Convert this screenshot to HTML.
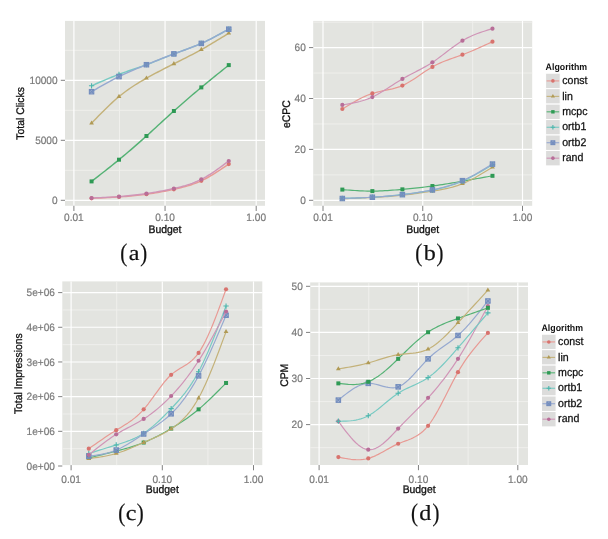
<!DOCTYPE html>
<html><head><meta charset="utf-8"><style>
html,body{margin:0;padding:0;background:#fff;width:608px;height:539px;overflow:hidden}
svg text{font-family:"Liberation Sans",sans-serif;text-rendering:geometricPrecision}
.tk{font-size:10.1px;fill:#7A7A7A;stroke:#7A7A7A;stroke-width:0.2px}
.ti{font-size:10.4px;fill:#111;stroke:#111;stroke-width:0.3px}
.lt{font-size:8.8px;font-weight:bold;fill:#111}
.lg{font-size:10.6px;fill:#111;stroke:#111;stroke-width:0.25px}
svg text.cp,svg text.cl{font-family:"Liberation Serif",serif;fill:#111;stroke:#111;stroke-width:0.2px}
.cp{font-size:25.4px}
.cl{font-size:21.5px}
</style></head><body>
<svg width="608" height="539" viewBox="0 0 608 539" style="display:block;will-change:transform">
<rect width="608" height="539" fill="#FFFFFF"/>
<rect x="65" y="20.9" width="200" height="184.9" fill="#E3E4E0"/>
<path d="M65 170.3H265" stroke="#EFEFEC" stroke-width="1"/>
<path d="M65 110.3H265" stroke="#EFEFEC" stroke-width="1"/>
<path d="M65 50.3H265" stroke="#EFEFEC" stroke-width="1"/>
<path d="M119.47 20.9V205.8" stroke="#EFEFEC" stroke-width="1"/>
<path d="M210.62 20.9V205.8" stroke="#EFEFEC" stroke-width="1"/>
<path d="M65 200.3H265" stroke="#FFFFFF" stroke-width="1.15"/>
<path d="M65 140.3H265" stroke="#FFFFFF" stroke-width="1.15"/>
<path d="M65 80.3H265" stroke="#FFFFFF" stroke-width="1.15"/>
<path d="M73.9 20.9V205.8" stroke="#FFFFFF" stroke-width="1.15"/>
<path d="M165.05 20.9V205.8" stroke="#FFFFFF" stroke-width="1.15"/>
<path d="M256.2 20.9V205.8" stroke="#FFFFFF" stroke-width="1.15"/>
<svg x="65" y="20.9" width="200" height="184.9" viewBox="65 20.9 200 184.9" overflow="hidden">
<path d="M91.57 181.4 L93.85 179.63 L96.14 177.85 L98.43 176.08 L100.71 174.29 L103 172.5 L105.29 170.71 L107.57 168.9 L109.86 167.09 L112.15 165.26 L114.43 163.42 L116.72 161.57 L119.01 159.7 L121.29 157.81 L123.58 155.9 L125.87 153.98 L128.15 152.04 L130.44 150.09 L132.73 148.12 L135.01 146.14 L137.3 144.14 L139.58 142.12 L141.87 140.09 L144.16 138.05 L146.44 136 L148.73 133.93 L151.02 131.85 L153.3 129.76 L155.59 127.67 L157.88 125.57 L160.16 123.48 L162.45 121.38 L164.74 119.29 L167.02 117.2 L169.31 115.12 L171.6 113.05 L173.88 111 L176.17 108.96 L178.46 106.93 L180.74 104.92 L183.03 102.93 L185.32 100.94 L187.6 98.97 L189.89 97.01 L192.18 95.07 L194.46 93.13 L196.75 91.21 L199.04 89.3 L201.32 87.4 L203.61 85.5 L205.9 83.62 L208.18 81.74 L210.47 79.88 L212.76 78.02 L215.04 76.16 L217.33 74.31 L219.61 72.46 L221.9 70.62 L224.19 68.78 L226.47 66.94 L228.76 65.1" fill="none" stroke="#55B275" stroke-width="1.45" stroke-linejoin="round"/>
<rect x="89.57" y="179.41" width="3.99" height="3.99" fill="#2F9A55"/>
<rect x="117.01" y="157.7" width="3.99" height="3.99" fill="#2F9A55"/>
<rect x="144.45" y="134" width="3.99" height="3.99" fill="#2F9A55"/>
<rect x="171.89" y="109" width="3.99" height="3.99" fill="#2F9A55"/>
<rect x="199.33" y="85.4" width="3.99" height="3.99" fill="#2F9A55"/>
<rect x="226.77" y="63.1" width="3.99" height="3.99" fill="#2F9A55"/>
<path d="M91.57 123.2 L93.85 120.83 L96.14 118.46 L98.43 116.1 L100.71 113.77 L103 111.46 L105.29 109.18 L107.57 106.94 L109.86 104.75 L112.15 102.62 L114.43 100.54 L116.72 98.53 L119.01 96.6 L121.29 94.74 L123.58 92.96 L125.87 91.25 L128.15 89.61 L130.44 88.02 L132.73 86.49 L135.01 85.01 L137.3 83.58 L139.58 82.19 L141.87 80.83 L144.16 79.5 L146.44 78.2 L148.73 76.93 L151.02 75.67 L153.3 74.42 L155.59 73.2 L157.88 71.99 L160.16 70.79 L162.45 69.61 L164.74 68.43 L167.02 67.27 L169.31 66.11 L171.6 64.95 L173.88 63.8 L176.17 62.66 L178.46 61.51 L180.74 60.36 L183.03 59.21 L185.32 58.05 L187.6 56.89 L189.89 55.71 L192.18 54.52 L194.46 53.32 L196.75 52.1 L199.04 50.86 L201.32 49.6 L203.61 48.31 L205.9 47.01 L208.18 45.68 L210.47 44.34 L212.76 42.98 L215.04 41.61 L217.33 40.23 L219.61 38.83 L221.9 37.43 L224.19 36.03 L226.47 34.62 L228.76 33.2" fill="none" stroke="#C4B27A" stroke-width="1.45" stroke-linejoin="round"/>
<path d="M91.57 120.47L93.94 124.57L89.19 124.57Z" fill="#B09A55"/>
<path d="M119.01 93.87L121.38 97.96L116.63 97.96Z" fill="#B09A55"/>
<path d="M146.44 75.47L148.82 79.57L144.07 79.57Z" fill="#B09A55"/>
<path d="M173.88 61.07L176.26 65.17L171.51 65.17Z" fill="#B09A55"/>
<path d="M201.32 46.87L203.7 50.96L198.95 50.96Z" fill="#B09A55"/>
<path d="M228.76 30.47L231.14 34.57L226.39 34.57Z" fill="#B09A55"/>
<path d="M91.57 85.8 L93.85 84.79 L96.14 83.78 L98.43 82.78 L100.71 81.78 L103 80.8 L105.29 79.82 L107.57 78.86 L109.86 77.91 L112.15 76.98 L114.43 76.06 L116.72 75.17 L119.01 74.3 L121.29 73.46 L123.58 72.64 L125.87 71.84 L128.15 71.05 L130.44 70.26 L132.73 69.49 L135.01 68.71 L137.3 67.93 L139.58 67.15 L141.87 66.35 L144.16 65.54 L146.44 64.7 L148.73 63.85 L151.02 62.97 L153.3 62.08 L155.59 61.17 L157.88 60.26 L160.16 59.34 L162.45 58.42 L164.74 57.5 L167.02 56.58 L169.31 55.67 L171.6 54.78 L173.88 53.9 L176.17 53.05 L178.46 52.2 L180.74 51.37 L183.03 50.54 L185.32 49.7 L187.6 48.87 L189.89 48.02 L192.18 47.15 L194.46 46.26 L196.75 45.34 L199.04 44.39 L201.32 43.4 L203.61 42.37 L205.9 41.3 L208.18 40.2 L210.47 39.06 L212.76 37.89 L215.04 36.69 L217.33 35.48 L219.61 34.24 L221.9 32.99 L224.19 31.73 L226.47 30.47 L228.76 29.2" fill="none" stroke="#78CAC3" stroke-width="1.45" stroke-linejoin="round"/>
<path d="M88.94 85.8H94.19M91.57 83.17V88.42" stroke="#4DB5AC" stroke-width="1.1"/>
<path d="M116.38 74.3H121.63M119.01 71.68V76.93" stroke="#4DB5AC" stroke-width="1.1"/>
<path d="M143.82 64.7H149.07M146.44 62.08V67.33" stroke="#4DB5AC" stroke-width="1.1"/>
<path d="M171.26 53.9H176.51M173.88 51.28V56.53" stroke="#4DB5AC" stroke-width="1.1"/>
<path d="M198.7 43.4H203.95M201.32 40.78V46.03" stroke="#4DB5AC" stroke-width="1.1"/>
<path d="M226.14 29.2H231.39M228.76 26.57V31.82" stroke="#4DB5AC" stroke-width="1.1"/>
<path d="M91.57 91.7 L93.85 90.38 L96.14 89.06 L98.43 87.74 L100.71 86.43 L103 85.13 L105.29 83.85 L107.57 82.58 L109.86 81.33 L112.15 80.11 L114.43 78.91 L116.72 77.74 L119.01 76.6 L121.29 75.49 L123.58 74.41 L125.87 73.36 L128.15 72.34 L130.44 71.33 L132.73 70.35 L135.01 69.39 L137.3 68.43 L139.58 67.49 L141.87 66.56 L144.16 65.63 L146.44 64.7 L148.73 63.78 L151.02 62.85 L153.3 61.93 L155.59 61.01 L157.88 60.09 L160.16 59.18 L162.45 58.28 L164.74 57.39 L167.02 56.5 L169.31 55.62 L171.6 54.76 L173.88 53.9 L176.17 53.06 L178.46 52.23 L180.74 51.41 L183.03 50.58 L185.32 49.75 L187.6 48.91 L189.89 48.05 L192.18 47.18 L194.46 46.28 L196.75 45.36 L199.04 44.4 L201.32 43.4 L203.61 42.37 L205.9 41.29 L208.18 40.18 L210.47 39.04 L212.76 37.87 L215.04 36.68 L217.33 35.46 L219.61 34.23 L221.9 32.98 L224.19 31.73 L226.47 30.46 L228.76 29.2" fill="none" stroke="#96A9D0" stroke-width="1.45" stroke-linejoin="round"/>
<g stroke="#738DBE" stroke-width="1.1" fill="#738DBE" fill-opacity="0.45"><rect x="89.36" y="89.5" width="4.41" height="4.41"/><path d="M89.36 89.5L93.77 93.91M93.77 89.5L89.36 93.91"/></g>
<g stroke="#738DBE" stroke-width="1.1" fill="#738DBE" fill-opacity="0.45"><rect x="116.8" y="74.39" width="4.41" height="4.41"/><path d="M116.8 74.39L121.21 78.8M121.21 74.39L116.8 78.8"/></g>
<g stroke="#738DBE" stroke-width="1.1" fill="#738DBE" fill-opacity="0.45"><rect x="144.24" y="62.5" width="4.41" height="4.41"/><path d="M144.24 62.5L148.65 66.91M148.65 62.5L144.24 66.91"/></g>
<g stroke="#738DBE" stroke-width="1.1" fill="#738DBE" fill-opacity="0.45"><rect x="171.68" y="51.7" width="4.41" height="4.41"/><path d="M171.68 51.7L176.09 56.11M176.09 51.7L171.68 56.11"/></g>
<g stroke="#738DBE" stroke-width="1.1" fill="#738DBE" fill-opacity="0.45"><rect x="199.12" y="41.2" width="4.41" height="4.41"/><path d="M199.12 41.2L203.53 45.61M203.53 41.2L199.12 45.61"/></g>
<g stroke="#738DBE" stroke-width="1.1" fill="#738DBE" fill-opacity="0.45"><rect x="226.56" y="26.99" width="4.41" height="4.41"/><path d="M226.56 26.99L230.97 31.4M230.97 26.99L226.56 31.4"/></g>
<path d="M91.57 198.3 L93.85 198.21 L96.14 198.12 L98.43 198.02 L100.71 197.92 L103 197.82 L105.29 197.72 L107.57 197.61 L109.86 197.5 L112.15 197.37 L114.43 197.24 L116.72 197.1 L119.01 196.96 L121.29 196.8 L123.58 196.63 L125.87 196.45 L128.15 196.26 L130.44 196.05 L132.73 195.83 L135.01 195.6 L137.3 195.36 L139.58 195.1 L141.87 194.82 L144.16 194.53 L146.44 194.22 L148.73 193.9 L151.02 193.55 L153.3 193.2 L155.59 192.82 L157.88 192.43 L160.16 192.03 L162.45 191.61 L164.74 191.17 L167.02 190.73 L169.31 190.26 L171.6 189.79 L173.88 189.3 L176.17 188.8 L178.46 188.28 L180.74 187.73 L183.03 187.16 L185.32 186.54 L187.6 185.89 L189.89 185.19 L192.18 184.44 L194.46 183.63 L196.75 182.75 L199.04 181.8 L201.32 180.78 L203.61 179.68 L205.9 178.5 L208.18 177.25 L210.47 175.95 L212.76 174.59 L215.04 173.18 L217.33 171.73 L219.61 170.24 L221.9 168.73 L224.19 167.2 L226.47 165.65 L228.76 164.1" fill="none" stroke="#E89A94" stroke-width="1.45" stroke-linejoin="round"/>
<circle cx="91.57" cy="198.3" r="2.1" fill="#D8736E"/>
<circle cx="119.01" cy="196.96" r="2.1" fill="#D8736E"/>
<circle cx="146.44" cy="194.22" r="2.1" fill="#D8736E"/>
<circle cx="173.88" cy="189.3" r="2.1" fill="#D8736E"/>
<circle cx="201.32" cy="180.78" r="2.1" fill="#D8736E"/>
<circle cx="228.76" cy="164.1" r="2.1" fill="#D8736E"/>
<path d="M91.57 198 L93.85 197.91 L96.14 197.81 L98.43 197.71 L100.71 197.61 L103 197.51 L105.29 197.4 L107.57 197.28 L109.86 197.15 L112.15 197.02 L114.43 196.88 L116.72 196.72 L119.01 196.56 L121.29 196.38 L123.58 196.19 L125.87 195.99 L128.15 195.77 L130.44 195.54 L132.73 195.3 L135.01 195.04 L137.3 194.77 L139.58 194.49 L141.87 194.19 L144.16 193.88 L146.44 193.56 L148.73 193.22 L151.02 192.87 L153.3 192.5 L155.59 192.12 L157.88 191.73 L160.16 191.32 L162.45 190.89 L164.74 190.45 L167.02 189.99 L169.31 189.52 L171.6 189.03 L173.88 188.52 L176.17 188 L178.46 187.45 L180.74 186.87 L183.03 186.26 L185.32 185.61 L187.6 184.9 L189.89 184.15 L192.18 183.33 L194.46 182.45 L196.75 181.49 L199.04 180.46 L201.32 179.34 L203.61 178.13 L205.9 176.84 L208.18 175.47 L210.47 174.03 L212.76 172.53 L215.04 170.98 L217.33 169.39 L219.61 167.75 L221.9 166.08 L224.19 164.4 L226.47 162.69 L228.76 160.98" fill="none" stroke="#D095B7" stroke-width="1.45" stroke-linejoin="round"/>
<circle cx="91.57" cy="198" r="2.1" fill="#B86E98"/>
<circle cx="119.01" cy="196.56" r="2.1" fill="#B86E98"/>
<circle cx="146.44" cy="193.56" r="2.1" fill="#B86E98"/>
<circle cx="173.88" cy="188.52" r="2.1" fill="#B86E98"/>
<circle cx="201.32" cy="179.34" r="2.1" fill="#B86E98"/>
<circle cx="228.76" cy="160.98" r="2.1" fill="#B86E98"/>
</svg>
<path d="M60.8 200.3H65" stroke="#808080" stroke-width="1"/>
<text transform="translate(57.6 203.98) scale(1 1.06)" text-anchor="end" class="tk">0</text>
<path d="M60.8 140.3H65" stroke="#808080" stroke-width="1"/>
<text transform="translate(57.6 143.98) scale(1 1.06)" text-anchor="end" class="tk">5000</text>
<path d="M60.8 80.3H65" stroke="#808080" stroke-width="1"/>
<text transform="translate(57.6 83.98) scale(1 1.06)" text-anchor="end" class="tk">10000</text>
<path d="M73.9 205.8V211" stroke="#808080" stroke-width="1"/>
<text transform="translate(73.9 221.38) scale(1 1.06)" text-anchor="middle" class="tk">0.01</text>
<path d="M165.05 205.8V211" stroke="#808080" stroke-width="1"/>
<text transform="translate(165.05 221.38) scale(1 1.06)" text-anchor="middle" class="tk">0.10</text>
<path d="M256.2 205.8V211" stroke="#808080" stroke-width="1"/>
<text transform="translate(256.2 221.38) scale(1 1.06)" text-anchor="middle" class="tk">1.00</text>
<text transform="translate(165 232.7) scale(1 1.06)" text-anchor="middle" class="ti">Budget</text>
<text transform="translate(24.09 113.4) rotate(-90) scale(1 1.06)" text-anchor="middle" class="ti">Total Clicks</text>
<rect x="313.2" y="20.9" width="219" height="184.9" fill="#E3E4E0"/>
<path d="M313.2 174.85H532.2" stroke="#EFEFEC" stroke-width="1"/>
<path d="M313.2 123.95H532.2" stroke="#EFEFEC" stroke-width="1"/>
<path d="M313.2 73.05H532.2" stroke="#EFEFEC" stroke-width="1"/>
<path d="M313.2 22.15H532.2" stroke="#EFEFEC" stroke-width="1"/>
<path d="M372.88 20.9V205.8" stroke="#EFEFEC" stroke-width="1"/>
<path d="M472.62 20.9V205.8" stroke="#EFEFEC" stroke-width="1"/>
<path d="M313.2 200.3H532.2" stroke="#FFFFFF" stroke-width="1.15"/>
<path d="M313.2 149.4H532.2" stroke="#FFFFFF" stroke-width="1.15"/>
<path d="M313.2 98.5H532.2" stroke="#FFFFFF" stroke-width="1.15"/>
<path d="M313.2 47.6H532.2" stroke="#FFFFFF" stroke-width="1.15"/>
<path d="M323 20.9V205.8" stroke="#FFFFFF" stroke-width="1.15"/>
<path d="M422.75 20.9V205.8" stroke="#FFFFFF" stroke-width="1.15"/>
<path d="M522.5 20.9V205.8" stroke="#FFFFFF" stroke-width="1.15"/>
<svg x="313.2" y="20.9" width="219" height="184.9" viewBox="313.2 20.9 219 184.9" overflow="hidden">
<path d="M342.33 189.59 L344.84 189.78 L347.34 189.98 L349.84 190.16 L352.34 190.34 L354.85 190.5 L357.35 190.66 L359.85 190.79 L362.35 190.91 L364.85 191 L367.36 191.07 L369.86 191.11 L372.36 191.12 L374.86 191.1 L377.37 191.04 L379.87 190.96 L382.37 190.85 L384.87 190.72 L387.38 190.56 L389.88 190.39 L392.38 190.2 L394.88 190 L397.38 189.79 L399.89 189.56 L402.39 189.34 L404.89 189.1 L407.39 188.86 L409.9 188.62 L412.4 188.37 L414.9 188.11 L417.4 187.84 L419.91 187.57 L422.41 187.28 L424.91 186.99 L427.41 186.68 L429.91 186.36 L432.42 186.02 L434.92 185.67 L437.42 185.31 L439.92 184.93 L442.43 184.55 L444.93 184.15 L447.43 183.74 L449.93 183.33 L452.44 182.91 L454.94 182.48 L457.44 182.05 L459.94 181.61 L462.44 181.18 L464.95 180.73 L467.45 180.29 L469.95 179.85 L472.45 179.4 L474.96 178.96 L477.46 178.51 L479.96 178.07 L482.46 177.62 L484.97 177.17 L487.47 176.72 L489.97 176.27 L492.47 175.82" fill="none" stroke="#55B275" stroke-width="1.2" stroke-linejoin="round"/>
<rect x="340.34" y="187.59" width="3.99" height="3.99" fill="#2F9A55"/>
<rect x="370.37" y="189.12" width="3.99" height="3.99" fill="#2F9A55"/>
<rect x="400.39" y="187.34" width="3.99" height="3.99" fill="#2F9A55"/>
<rect x="430.42" y="184.03" width="3.99" height="3.99" fill="#2F9A55"/>
<rect x="460.45" y="179.18" width="3.99" height="3.99" fill="#2F9A55"/>
<rect x="490.48" y="173.83" width="3.99" height="3.99" fill="#2F9A55"/>
<path d="M342.33 198.77 L344.84 198.68 L347.34 198.58 L349.84 198.49 L352.34 198.39 L354.85 198.3 L357.35 198.19 L359.85 198.09 L362.35 197.98 L364.85 197.87 L367.36 197.75 L369.86 197.63 L372.36 197.5 L374.86 197.36 L377.37 197.21 L379.87 197.06 L382.37 196.9 L384.87 196.73 L387.38 196.54 L389.88 196.35 L392.38 196.15 L394.88 195.93 L397.38 195.7 L399.89 195.46 L402.39 195.2 L404.89 194.93 L407.39 194.64 L409.9 194.34 L412.4 194.03 L414.9 193.7 L417.4 193.36 L419.91 193.01 L422.41 192.65 L424.91 192.28 L427.41 191.9 L429.91 191.52 L432.42 191.12 L434.92 190.72 L437.42 190.3 L439.92 189.86 L442.43 189.39 L444.93 188.88 L447.43 188.33 L449.93 187.73 L452.44 187.08 L454.94 186.35 L457.44 185.56 L459.94 184.69 L462.44 183.73 L464.95 182.67 L467.45 181.54 L469.95 180.32 L472.45 179.03 L474.96 177.69 L477.46 176.28 L479.96 174.83 L482.46 173.34 L484.97 171.82 L487.47 170.28 L489.97 168.72 L492.47 167.15" fill="none" stroke="#C4B27A" stroke-width="1.2" stroke-linejoin="round"/>
<path d="M342.33 196.04L344.71 200.14L339.96 200.14Z" fill="#B09A55"/>
<path d="M372.36 194.77L374.74 198.86L369.99 198.86Z" fill="#B09A55"/>
<path d="M402.39 192.47L404.76 196.57L400.01 196.57Z" fill="#B09A55"/>
<path d="M432.42 188.39L434.79 192.49L430.04 192.49Z" fill="#B09A55"/>
<path d="M462.44 181L464.82 185.09L460.07 185.09Z" fill="#B09A55"/>
<path d="M492.47 164.42L494.85 168.52L490.1 168.52Z" fill="#B09A55"/>
<path d="M342.33 198.26 L344.84 198.21 L347.34 198.16 L349.84 198.1 L352.34 198.04 L354.85 197.98 L357.35 197.91 L359.85 197.83 L362.35 197.74 L364.85 197.63 L367.36 197.52 L369.86 197.39 L372.36 197.24 L374.86 197.08 L377.37 196.9 L379.87 196.7 L382.37 196.49 L384.87 196.27 L387.38 196.03 L389.88 195.79 L392.38 195.53 L394.88 195.27 L397.38 195 L399.89 194.72 L402.39 194.44 L404.89 194.15 L407.39 193.85 L409.9 193.55 L412.4 193.23 L414.9 192.91 L417.4 192.56 L419.91 192.21 L422.41 191.83 L424.91 191.43 L427.41 191.01 L429.91 190.57 L432.42 190.1 L434.92 189.6 L437.42 189.07 L439.92 188.5 L442.43 187.89 L444.93 187.24 L447.43 186.55 L449.93 185.8 L452.44 185 L454.94 184.14 L457.44 183.22 L459.94 182.23 L462.44 181.18 L464.95 180.05 L467.45 178.86 L469.95 177.6 L472.45 176.29 L474.96 174.94 L477.46 173.54 L479.96 172.11 L482.46 170.64 L484.97 169.15 L487.47 167.64 L489.97 166.13 L492.47 164.6" fill="none" stroke="#78CAC3" stroke-width="1.2" stroke-linejoin="round"/>
<path d="M339.71 198.26H344.96M342.33 195.64V200.89" stroke="#4DB5AC" stroke-width="1.1"/>
<path d="M369.74 197.24H374.99M372.36 194.62V199.87" stroke="#4DB5AC" stroke-width="1.1"/>
<path d="M399.76 194.44H405.01M402.39 191.81V197.06" stroke="#4DB5AC" stroke-width="1.1"/>
<path d="M429.79 190.1H435.04M432.42 187.48V192.73" stroke="#4DB5AC" stroke-width="1.1"/>
<path d="M459.82 181.18H465.07M462.44 178.55V183.8" stroke="#4DB5AC" stroke-width="1.1"/>
<path d="M489.85 164.6H495.1M492.47 161.98V167.23" stroke="#4DB5AC" stroke-width="1.1"/>
<path d="M342.33 198.52 L344.84 198.43 L347.34 198.34 L349.84 198.25 L352.34 198.16 L354.85 198.06 L357.35 197.96 L359.85 197.86 L362.35 197.75 L364.85 197.63 L367.36 197.51 L369.86 197.38 L372.36 197.24 L374.86 197.09 L377.37 196.93 L379.87 196.76 L382.37 196.58 L384.87 196.39 L387.38 196.19 L389.88 195.97 L392.38 195.75 L394.88 195.5 L397.38 195.25 L399.89 194.98 L402.39 194.69 L404.89 194.39 L407.39 194.07 L409.9 193.73 L412.4 193.38 L414.9 193.01 L417.4 192.62 L419.91 192.21 L422.41 191.78 L424.91 191.33 L427.41 190.86 L429.91 190.36 L432.42 189.84 L434.92 189.3 L437.42 188.74 L439.92 188.13 L442.43 187.5 L444.93 186.82 L447.43 186.11 L449.93 185.34 L452.44 184.52 L454.94 183.65 L457.44 182.72 L459.94 181.73 L462.44 180.67 L464.95 179.53 L467.45 178.34 L469.95 177.08 L472.45 175.77 L474.96 174.42 L477.46 173.02 L479.96 171.58 L482.46 170.12 L484.97 168.63 L487.47 167.13 L489.97 165.61 L492.47 164.09" fill="none" stroke="#96A9D0" stroke-width="1.2" stroke-linejoin="round"/>
<g stroke="#738DBE" stroke-width="1.1" fill="#738DBE" fill-opacity="0.45"><rect x="340.13" y="196.31" width="4.41" height="4.41"/><path d="M340.13 196.31L344.54 200.72M344.54 196.31L340.13 200.72"/></g>
<g stroke="#738DBE" stroke-width="1.1" fill="#738DBE" fill-opacity="0.45"><rect x="370.16" y="195.03" width="4.41" height="4.41"/><path d="M370.16 195.03L374.57 199.45M374.57 195.03L370.16 199.45"/></g>
<g stroke="#738DBE" stroke-width="1.1" fill="#738DBE" fill-opacity="0.45"><rect x="400.18" y="192.48" width="4.41" height="4.41"/><path d="M400.18 192.48L404.59 196.9M404.59 192.48L400.18 196.9"/></g>
<g stroke="#738DBE" stroke-width="1.1" fill="#738DBE" fill-opacity="0.45"><rect x="430.21" y="187.64" width="4.41" height="4.41"/><path d="M430.21 187.64L434.62 192.05M434.62 187.64L430.21 192.05"/></g>
<g stroke="#738DBE" stroke-width="1.1" fill="#738DBE" fill-opacity="0.45"><rect x="460.24" y="178.46" width="4.41" height="4.41"/><path d="M460.24 178.46L464.65 182.87M464.65 178.46L460.24 182.87"/></g>
<g stroke="#738DBE" stroke-width="1.1" fill="#738DBE" fill-opacity="0.45"><rect x="490.27" y="161.88" width="4.41" height="4.41"/><path d="M490.27 161.88L494.68 166.3M494.68 161.88L490.27 166.3"/></g>
<path d="M342.33 109.01 L344.84 107.47 L347.34 105.94 L349.84 104.43 L352.34 102.95 L354.85 101.52 L357.35 100.13 L359.85 98.8 L362.35 97.55 L364.85 96.38 L367.36 95.3 L369.86 94.32 L372.36 93.46 L374.86 92.71 L377.37 92.06 L379.87 91.48 L382.37 90.95 L384.87 90.45 L387.38 89.95 L389.88 89.42 L392.38 88.84 L394.88 88.19 L397.38 87.44 L399.89 86.57 L402.39 85.55 L404.89 84.37 L407.39 83.04 L409.9 81.58 L412.4 80.03 L414.9 78.4 L417.4 76.72 L419.91 75.01 L422.41 73.31 L424.91 71.62 L427.41 69.98 L429.91 68.41 L432.42 66.94 L434.92 65.57 L437.42 64.32 L439.92 63.15 L442.43 62.07 L444.93 61.05 L447.43 60.08 L449.93 59.16 L452.44 58.27 L454.94 57.38 L457.44 56.5 L459.94 55.61 L462.44 54.7 L464.95 53.74 L467.45 52.76 L469.95 51.74 L472.45 50.69 L474.96 49.62 L477.46 48.53 L479.96 47.42 L482.46 46.29 L484.97 45.15 L487.47 44 L489.97 42.85 L492.47 41.69" fill="none" stroke="#E89A94" stroke-width="1.2" stroke-linejoin="round"/>
<circle cx="342.33" cy="109.01" r="2.1" fill="#D8736E"/>
<circle cx="372.36" cy="93.46" r="2.1" fill="#D8736E"/>
<circle cx="402.39" cy="85.55" r="2.1" fill="#D8736E"/>
<circle cx="432.42" cy="66.94" r="2.1" fill="#D8736E"/>
<circle cx="462.44" cy="54.7" r="2.1" fill="#D8736E"/>
<circle cx="492.47" cy="41.69" r="2.1" fill="#D8736E"/>
<path d="M342.33 104.93 L344.84 104.52 L347.34 104.1 L349.84 103.65 L352.34 103.18 L354.85 102.66 L357.35 102.1 L359.85 101.47 L362.35 100.77 L364.85 99.98 L367.36 99.1 L369.86 98.12 L372.36 97.03 L374.86 95.81 L377.37 94.48 L379.87 93.07 L382.37 91.58 L384.87 90.03 L387.38 88.44 L389.88 86.82 L392.38 85.19 L394.88 83.57 L397.38 81.98 L399.89 80.42 L402.39 78.92 L404.89 77.49 L407.39 76.11 L409.9 74.78 L412.4 73.48 L414.9 72.19 L417.4 70.9 L419.91 69.6 L422.41 68.27 L424.91 66.89 L427.41 65.45 L429.91 63.94 L432.42 62.34 L434.92 60.65 L437.42 58.87 L439.92 57.02 L442.43 55.13 L444.93 53.22 L447.43 51.29 L449.93 49.38 L452.44 47.5 L454.94 45.67 L457.44 43.91 L459.94 42.24 L462.44 40.67 L464.95 39.23 L467.45 37.9 L469.95 36.68 L472.45 35.55 L474.96 34.51 L477.46 33.54 L479.96 32.63 L482.46 31.78 L484.97 30.97 L487.47 30.19 L489.97 29.43 L492.47 28.69" fill="none" stroke="#D095B7" stroke-width="1.2" stroke-linejoin="round"/>
<circle cx="342.33" cy="104.93" r="2.1" fill="#B86E98"/>
<circle cx="372.36" cy="97.03" r="2.1" fill="#B86E98"/>
<circle cx="402.39" cy="78.92" r="2.1" fill="#B86E98"/>
<circle cx="432.42" cy="62.34" r="2.1" fill="#B86E98"/>
<circle cx="462.44" cy="40.67" r="2.1" fill="#B86E98"/>
<circle cx="492.47" cy="28.69" r="2.1" fill="#B86E98"/>
</svg>
<path d="M309 200.3H313.2" stroke="#808080" stroke-width="1"/>
<text transform="translate(305.8 203.98) scale(1 1.06)" text-anchor="end" class="tk">0</text>
<path d="M309 149.4H313.2" stroke="#808080" stroke-width="1"/>
<text transform="translate(305.8 153.08) scale(1 1.06)" text-anchor="end" class="tk">20</text>
<path d="M309 98.5H313.2" stroke="#808080" stroke-width="1"/>
<text transform="translate(305.8 102.18) scale(1 1.06)" text-anchor="end" class="tk">40</text>
<path d="M309 47.6H313.2" stroke="#808080" stroke-width="1"/>
<text transform="translate(305.8 51.28) scale(1 1.06)" text-anchor="end" class="tk">60</text>
<path d="M323 205.8V211" stroke="#808080" stroke-width="1"/>
<text transform="translate(323 221.38) scale(1 1.06)" text-anchor="middle" class="tk">0.01</text>
<path d="M422.75 205.8V211" stroke="#808080" stroke-width="1"/>
<text transform="translate(422.75 221.38) scale(1 1.06)" text-anchor="middle" class="tk">0.10</text>
<path d="M522.5 205.8V211" stroke="#808080" stroke-width="1"/>
<text transform="translate(522.5 221.38) scale(1 1.06)" text-anchor="middle" class="tk">1.00</text>
<text transform="translate(422.7 232.7) scale(1 1.06)" text-anchor="middle" class="ti">Budget</text>
<text transform="translate(290.39 114.2) rotate(-90) scale(1 1.06)" text-anchor="middle" class="ti">eCPC</text>
<rect x="62.3" y="281.4" width="200" height="183.7" fill="#E3E4E0"/>
<path d="M62.3 448.66H262.3" stroke="#EFEFEC" stroke-width="1"/>
<path d="M62.3 413.98H262.3" stroke="#EFEFEC" stroke-width="1"/>
<path d="M62.3 379.3H262.3" stroke="#EFEFEC" stroke-width="1"/>
<path d="M62.3 344.62H262.3" stroke="#EFEFEC" stroke-width="1"/>
<path d="M62.3 309.94H262.3" stroke="#EFEFEC" stroke-width="1"/>
<path d="M116.7 281.4V465.1" stroke="#EFEFEC" stroke-width="1"/>
<path d="M207.9 281.4V465.1" stroke="#EFEFEC" stroke-width="1"/>
<path d="M62.3 431.32H262.3" stroke="#FFFFFF" stroke-width="1.15"/>
<path d="M62.3 396.64H262.3" stroke="#FFFFFF" stroke-width="1.15"/>
<path d="M62.3 361.96H262.3" stroke="#FFFFFF" stroke-width="1.15"/>
<path d="M62.3 327.28H262.3" stroke="#FFFFFF" stroke-width="1.15"/>
<path d="M62.3 292.6H262.3" stroke="#FFFFFF" stroke-width="1.15"/>
<path d="M71.1 281.4V465.1" stroke="#FFFFFF" stroke-width="1.15"/>
<path d="M162.3 281.4V465.1" stroke="#FFFFFF" stroke-width="1.15"/>
<path d="M253.5 281.4V465.1" stroke="#FFFFFF" stroke-width="1.15"/>
<svg x="62.3" y="281.4" width="200" height="183.7" viewBox="62.3 281.4 200 183.7" overflow="hidden">
<path d="M88.78 457.94 L91.06 457.38 L93.35 456.82 L95.64 456.26 L97.93 455.7 L100.22 455.13 L102.5 454.57 L104.79 454 L107.08 453.43 L109.37 452.85 L111.65 452.27 L113.94 451.69 L116.23 451.1 L118.52 450.5 L120.81 449.9 L123.09 449.28 L125.38 448.65 L127.67 447.99 L129.96 447.32 L132.25 446.61 L134.53 445.87 L136.82 445.1 L139.11 444.29 L141.4 443.44 L143.68 442.54 L145.97 441.59 L148.26 440.6 L150.55 439.56 L152.84 438.48 L155.12 437.35 L157.41 436.19 L159.7 434.99 L161.99 433.75 L164.27 432.49 L166.56 431.19 L168.85 429.86 L171.14 428.51 L173.43 427.13 L175.71 425.73 L178 424.3 L180.29 422.83 L182.58 421.32 L184.87 419.76 L187.15 418.17 L189.44 416.52 L191.73 414.82 L194.02 413.06 L196.3 411.23 L198.59 409.35 L200.88 407.39 L203.17 405.38 L205.46 403.3 L207.74 401.18 L210.03 399.01 L212.32 396.79 L214.61 394.55 L216.89 392.27 L219.18 389.97 L221.47 387.66 L223.76 385.33 L226.05 383" fill="none" stroke="#55B275" stroke-width="1.2" stroke-linejoin="round"/>
<rect x="86.78" y="455.95" width="3.99" height="3.99" fill="#2F9A55"/>
<rect x="114.24" y="449.1" width="3.99" height="3.99" fill="#2F9A55"/>
<rect x="141.69" y="440.55" width="3.99" height="3.99" fill="#2F9A55"/>
<rect x="169.14" y="426.52" width="3.99" height="3.99" fill="#2F9A55"/>
<rect x="196.6" y="407.35" width="3.99" height="3.99" fill="#2F9A55"/>
<rect x="224.05" y="381" width="3.99" height="3.99" fill="#2F9A55"/>
<path d="M88.78 458.62 L91.06 458.32 L93.35 458.02 L95.64 457.7 L97.93 457.36 L100.22 457.01 L102.5 456.63 L104.79 456.22 L107.08 455.77 L109.37 455.27 L111.65 454.73 L113.94 454.14 L116.23 453.49 L118.52 452.78 L120.81 452.01 L123.09 451.19 L125.38 450.33 L127.67 449.42 L129.96 448.49 L132.25 447.53 L134.53 446.55 L136.82 445.55 L139.11 444.55 L141.4 443.54 L143.68 442.54 L145.97 441.55 L148.26 440.56 L150.55 439.56 L152.84 438.55 L155.12 437.52 L157.41 436.45 L159.7 435.34 L161.99 434.18 L164.27 432.96 L166.56 431.67 L168.85 430.3 L171.14 428.85 L173.43 427.31 L175.71 425.65 L178 423.85 L180.29 421.89 L182.58 419.76 L184.87 417.43 L187.15 414.87 L189.44 412.08 L191.73 409.02 L194.02 405.68 L196.3 402.03 L198.59 398.06 L200.88 393.74 L203.17 389.11 L205.46 384.19 L207.74 379.01 L210.03 373.6 L212.32 367.99 L214.61 362.2 L216.89 356.27 L219.18 350.22 L221.47 344.08 L223.76 337.89 L226.05 331.67" fill="none" stroke="#C4B27A" stroke-width="1.2" stroke-linejoin="round"/>
<path d="M88.78 455.89L91.15 459.99L86.4 459.99Z" fill="#B09A55"/>
<path d="M116.23 450.76L118.61 454.86L113.86 454.86Z" fill="#B09A55"/>
<path d="M143.68 439.81L146.06 443.91L141.31 443.91Z" fill="#B09A55"/>
<path d="M171.14 426.12L173.51 430.22L168.76 430.22Z" fill="#B09A55"/>
<path d="M198.59 395.33L200.97 399.42L196.22 399.42Z" fill="#B09A55"/>
<path d="M226.05 328.94L228.42 333.03L223.67 333.03Z" fill="#B09A55"/>
<path d="M88.78 453.49 L91.06 452.78 L93.35 452.06 L95.64 451.35 L97.93 450.64 L100.22 449.92 L102.5 449.21 L104.79 448.5 L107.08 447.78 L109.37 447.07 L111.65 446.36 L113.94 445.65 L116.23 444.94 L118.52 444.22 L120.81 443.5 L123.09 442.76 L125.38 441.98 L127.67 441.16 L129.96 440.29 L132.25 439.35 L134.53 438.33 L136.82 437.23 L139.11 436.03 L141.4 434.73 L143.68 433.3 L145.97 431.75 L148.26 430.08 L150.55 428.29 L152.84 426.4 L155.12 424.42 L157.41 422.35 L159.7 420.21 L161.99 418 L164.27 415.73 L166.56 413.41 L168.85 411.05 L171.14 408.66 L173.43 406.25 L175.71 403.78 L178 401.25 L180.29 398.63 L182.58 395.9 L184.87 393.03 L187.15 390 L189.44 386.8 L191.73 383.39 L194.02 379.75 L196.3 375.86 L198.59 371.71 L200.88 367.26 L203.17 362.55 L205.46 357.59 L207.74 352.42 L210.03 347.04 L212.32 341.5 L214.61 335.81 L216.89 329.99 L219.18 324.08 L221.47 318.1 L223.76 312.06 L226.05 306" fill="none" stroke="#78CAC3" stroke-width="1.2" stroke-linejoin="round"/>
<path d="M86.15 453.49H91.4M88.78 450.87V456.12" stroke="#4DB5AC" stroke-width="1.1"/>
<path d="M113.61 444.94H118.86M116.23 442.31V447.56" stroke="#4DB5AC" stroke-width="1.1"/>
<path d="M141.06 433.3H146.31M143.68 430.68V435.93" stroke="#4DB5AC" stroke-width="1.1"/>
<path d="M168.51 408.66H173.76M171.14 406.04V411.29" stroke="#4DB5AC" stroke-width="1.1"/>
<path d="M195.97 371.71H201.22M198.59 369.08V374.33" stroke="#4DB5AC" stroke-width="1.1"/>
<path d="M223.42 306H228.67M226.05 303.38V308.63" stroke="#4DB5AC" stroke-width="1.1"/>
<path d="M88.78 456.23 L91.06 455.93 L93.35 455.62 L95.64 455.3 L97.93 454.95 L100.22 454.56 L102.5 454.12 L104.79 453.64 L107.08 453.08 L109.37 452.46 L111.65 451.76 L113.94 450.96 L116.23 450.07 L118.52 449.07 L120.81 447.98 L123.09 446.79 L125.38 445.53 L127.67 444.21 L129.96 442.83 L132.25 441.4 L134.53 439.95 L136.82 438.46 L139.11 436.97 L141.4 435.47 L143.68 433.99 L145.97 432.51 L148.26 431.05 L150.55 429.58 L152.84 428.08 L155.12 426.55 L157.41 424.98 L159.7 423.34 L161.99 421.63 L164.27 419.84 L166.56 417.94 L168.85 415.93 L171.14 413.8 L173.43 411.52 L175.71 409.1 L178 406.53 L180.29 403.8 L182.58 400.92 L184.87 397.87 L187.15 394.65 L189.44 391.25 L191.73 387.67 L194.02 383.91 L196.3 379.96 L198.59 375.81 L200.88 371.47 L203.17 366.94 L205.46 362.25 L207.74 357.4 L210.03 352.42 L212.32 347.33 L214.61 342.13 L216.89 336.86 L219.18 331.51 L221.47 326.12 L223.76 320.69 L226.05 315.24" fill="none" stroke="#96A9D0" stroke-width="1.2" stroke-linejoin="round"/>
<g stroke="#738DBE" stroke-width="1.1" fill="#738DBE" fill-opacity="0.45"><rect x="86.57" y="454.02" width="4.41" height="4.41"/><path d="M86.57 454.02L90.98 458.43M90.98 454.02L86.57 458.43"/></g>
<g stroke="#738DBE" stroke-width="1.1" fill="#738DBE" fill-opacity="0.45"><rect x="114.03" y="447.86" width="4.41" height="4.41"/><path d="M114.03 447.86L118.44 452.27M118.44 447.86L114.03 452.27"/></g>
<g stroke="#738DBE" stroke-width="1.1" fill="#738DBE" fill-opacity="0.45"><rect x="141.48" y="431.78" width="4.41" height="4.41"/><path d="M141.48 431.78L145.89 436.19M145.89 431.78L141.48 436.19"/></g>
<g stroke="#738DBE" stroke-width="1.1" fill="#738DBE" fill-opacity="0.45"><rect x="168.93" y="411.59" width="4.41" height="4.41"/><path d="M168.93 411.59L173.34 416M173.34 411.59L168.93 416"/></g>
<g stroke="#738DBE" stroke-width="1.1" fill="#738DBE" fill-opacity="0.45"><rect x="196.39" y="373.61" width="4.41" height="4.41"/><path d="M196.39 373.61L200.8 378.02M200.8 373.61L196.39 378.02"/></g>
<g stroke="#738DBE" stroke-width="1.1" fill="#738DBE" fill-opacity="0.45"><rect x="223.84" y="313.04" width="4.41" height="4.41"/><path d="M223.84 313.04L228.25 317.45M228.25 313.04L223.84 317.45"/></g>
<path d="M88.78 454.86 L91.06 453.01 L93.35 451.16 L95.64 449.32 L97.93 447.5 L100.22 445.7 L102.5 443.94 L104.79 442.21 L107.08 440.53 L109.37 438.89 L111.65 437.31 L113.94 435.78 L116.23 434.33 L118.52 432.94 L120.81 431.62 L123.09 430.34 L125.38 429.1 L127.67 427.88 L129.96 426.67 L132.25 425.46 L134.53 424.23 L136.82 422.98 L139.11 421.69 L141.4 420.34 L143.68 418.93 L145.97 417.44 L148.26 415.88 L150.55 414.24 L152.84 412.52 L155.12 410.73 L157.41 408.86 L159.7 406.91 L161.99 404.88 L164.27 402.78 L166.56 400.6 L168.85 398.34 L171.14 396 L173.43 393.59 L175.71 391.09 L178 388.51 L180.29 385.84 L182.58 383.08 L184.87 380.22 L187.15 377.25 L189.44 374.18 L191.73 371 L194.02 367.71 L196.3 364.29 L198.59 360.76 L200.88 357.09 L203.17 353.32 L205.46 349.44 L207.74 345.46 L210.03 341.39 L212.32 337.26 L214.61 333.06 L216.89 328.81 L219.18 324.51 L221.47 320.18 L223.76 315.84 L226.05 311.48" fill="none" stroke="#D095B7" stroke-width="1.2" stroke-linejoin="round"/>
<circle cx="88.78" cy="454.86" r="2.1" fill="#B86E98"/>
<circle cx="116.23" cy="434.33" r="2.1" fill="#B86E98"/>
<circle cx="143.68" cy="418.93" r="2.1" fill="#B86E98"/>
<circle cx="171.14" cy="396" r="2.1" fill="#B86E98"/>
<circle cx="198.59" cy="360.76" r="2.1" fill="#B86E98"/>
<circle cx="226.05" cy="311.48" r="2.1" fill="#B86E98"/>
<path d="M88.78 448.7 L91.06 447.1 L93.35 445.49 L95.64 443.9 L97.93 442.31 L100.22 440.73 L102.5 439.17 L104.79 437.62 L107.08 436.09 L109.37 434.59 L111.65 433.1 L113.94 431.65 L116.23 430.22 L118.52 428.83 L120.81 427.44 L123.09 426.04 L125.38 424.61 L127.67 423.13 L129.96 421.56 L132.25 419.9 L134.53 418.12 L136.82 416.2 L139.11 414.11 L141.4 411.83 L143.68 409.35 L145.97 406.65 L148.26 403.76 L150.55 400.73 L152.84 397.61 L155.12 394.45 L157.41 391.28 L159.7 388.15 L161.99 385.12 L164.27 382.22 L166.56 379.5 L168.85 377.01 L171.14 374.79 L173.43 372.86 L175.71 371.19 L178 369.7 L180.29 368.32 L182.58 366.97 L184.87 365.6 L187.15 364.13 L189.44 362.5 L191.73 360.62 L194.02 358.44 L196.3 355.89 L198.59 352.88 L200.88 349.39 L203.17 345.42 L205.46 341.02 L207.74 336.24 L210.03 331.12 L212.32 325.69 L214.61 320.01 L216.89 314.11 L219.18 308.04 L221.47 301.84 L223.76 295.56 L226.05 289.24" fill="none" stroke="#E89A94" stroke-width="1.2" stroke-linejoin="round"/>
<circle cx="88.78" cy="448.7" r="2.1" fill="#D8736E"/>
<circle cx="116.23" cy="430.22" r="2.1" fill="#D8736E"/>
<circle cx="143.68" cy="409.35" r="2.1" fill="#D8736E"/>
<circle cx="171.14" cy="374.79" r="2.1" fill="#D8736E"/>
<circle cx="198.59" cy="352.88" r="2.1" fill="#D8736E"/>
<circle cx="226.05" cy="289.24" r="2.1" fill="#D8736E"/>
</svg>
<path d="M58.1 466H62.3" stroke="#808080" stroke-width="1"/>
<text transform="translate(54.9 469.68) scale(1 1.06)" text-anchor="end" class="tk">0e+00</text>
<path d="M58.1 431.32H62.3" stroke="#808080" stroke-width="1"/>
<text transform="translate(54.9 435) scale(1 1.06)" text-anchor="end" class="tk">1e+06</text>
<path d="M58.1 396.64H62.3" stroke="#808080" stroke-width="1"/>
<text transform="translate(54.9 400.32) scale(1 1.06)" text-anchor="end" class="tk">2e+06</text>
<path d="M58.1 361.96H62.3" stroke="#808080" stroke-width="1"/>
<text transform="translate(54.9 365.64) scale(1 1.06)" text-anchor="end" class="tk">3e+06</text>
<path d="M58.1 327.28H62.3" stroke="#808080" stroke-width="1"/>
<text transform="translate(54.9 330.96) scale(1 1.06)" text-anchor="end" class="tk">4e+06</text>
<path d="M58.1 292.6H62.3" stroke="#808080" stroke-width="1"/>
<text transform="translate(54.9 296.28) scale(1 1.06)" text-anchor="end" class="tk">5e+06</text>
<path d="M71.1 465.1V470.3" stroke="#808080" stroke-width="1"/>
<text transform="translate(71.1 483.08) scale(1 1.06)" text-anchor="middle" class="tk">0.01</text>
<path d="M162.3 465.1V470.3" stroke="#808080" stroke-width="1"/>
<text transform="translate(162.3 483.08) scale(1 1.06)" text-anchor="middle" class="tk">0.10</text>
<path d="M253.5 465.1V470.3" stroke="#808080" stroke-width="1"/>
<text transform="translate(253.5 483.08) scale(1 1.06)" text-anchor="middle" class="tk">1.00</text>
<text transform="translate(162.3 493) scale(1 1.06)" text-anchor="middle" class="ti">Budget</text>
<text transform="translate(21.69 373.7) rotate(-90) scale(1 1.06)" text-anchor="middle" class="ti">Total Impressions</text>
<rect x="310.2" y="282.4" width="217.8" height="182.6" fill="#E3E4E0"/>
<path d="M310.2 447.65H528" stroke="#EFEFEC" stroke-width="1"/>
<path d="M310.2 401.55H528" stroke="#EFEFEC" stroke-width="1"/>
<path d="M310.2 355.45H528" stroke="#EFEFEC" stroke-width="1"/>
<path d="M310.2 309.35H528" stroke="#EFEFEC" stroke-width="1"/>
<path d="M368.77 282.4V465.0" stroke="#EFEFEC" stroke-width="1"/>
<path d="M468.12 282.4V465.0" stroke="#EFEFEC" stroke-width="1"/>
<path d="M310.2 424.6H528" stroke="#FFFFFF" stroke-width="1.15"/>
<path d="M310.2 378.5H528" stroke="#FFFFFF" stroke-width="1.15"/>
<path d="M310.2 332.4H528" stroke="#FFFFFF" stroke-width="1.15"/>
<path d="M310.2 286.3H528" stroke="#FFFFFF" stroke-width="1.15"/>
<path d="M319.1 282.4V465.0" stroke="#FFFFFF" stroke-width="1.15"/>
<path d="M418.45 282.4V465.0" stroke="#FFFFFF" stroke-width="1.15"/>
<path d="M517.8 282.4V465.0" stroke="#FFFFFF" stroke-width="1.15"/>
<svg x="310.2" y="282.4" width="217.8" height="182.6" viewBox="310.2 282.4 217.8 182.6" overflow="hidden">
<path d="M338.36 457.05 L340.85 457.56 L343.34 458.06 L345.83 458.52 L348.33 458.94 L350.82 459.28 L353.31 459.55 L355.8 459.71 L358.29 459.75 L360.79 459.67 L363.28 459.42 L365.77 459.02 L368.26 458.43 L370.76 457.64 L373.25 456.68 L375.74 455.58 L378.23 454.35 L380.72 453.04 L383.22 451.67 L385.71 450.27 L388.2 448.86 L390.69 447.47 L393.19 446.14 L395.68 444.88 L398.17 443.74 L400.66 442.71 L403.16 441.77 L405.65 440.86 L408.14 439.94 L410.63 438.95 L413.12 437.83 L415.62 436.55 L418.11 435.05 L420.6 433.28 L423.09 431.19 L425.59 428.72 L428.08 425.84 L430.57 422.49 L433.06 418.74 L435.55 414.63 L438.05 410.24 L440.54 405.61 L443.03 400.83 L445.52 395.94 L448.02 391.01 L450.51 386.11 L453 381.28 L455.49 376.6 L457.99 372.13 L460.48 367.92 L462.97 363.95 L465.46 360.2 L467.95 356.66 L470.45 353.3 L472.94 350.09 L475.43 347.02 L477.92 344.06 L480.42 341.19 L482.91 338.38 L485.4 335.62 L487.89 332.89" fill="none" stroke="#E89A94" stroke-width="1.2" stroke-linejoin="round"/>
<circle cx="338.36" cy="457.05" r="2.1" fill="#D8736E"/>
<circle cx="368.26" cy="458.43" r="2.1" fill="#D8736E"/>
<circle cx="398.17" cy="443.74" r="2.1" fill="#D8736E"/>
<circle cx="428.08" cy="425.84" r="2.1" fill="#D8736E"/>
<circle cx="457.99" cy="372.13" r="2.1" fill="#D8736E"/>
<circle cx="487.89" cy="332.89" r="2.1" fill="#D8736E"/>
<path d="M338.36 421.25 L340.85 424.67 L343.34 428.04 L345.83 431.33 L348.33 434.49 L350.82 437.47 L353.31 440.23 L355.8 442.73 L358.29 444.92 L360.79 446.75 L363.28 448.19 L365.77 449.19 L368.26 449.7 L370.76 449.71 L373.25 449.23 L375.74 448.32 L378.23 447.02 L380.72 445.39 L383.22 443.47 L385.71 441.31 L388.2 438.96 L390.69 436.46 L393.19 433.87 L395.68 431.23 L398.17 428.59 L400.66 425.99 L403.16 423.43 L405.65 420.89 L408.14 418.38 L410.63 415.88 L413.12 413.38 L415.62 410.87 L418.11 408.33 L420.6 405.78 L423.09 403.18 L425.59 400.54 L428.08 397.84 L430.57 395.07 L433.06 392.23 L435.55 389.32 L438.05 386.32 L440.54 383.24 L443.03 380.07 L445.52 376.8 L448.02 373.43 L450.51 369.95 L453 366.36 L455.49 362.65 L457.99 358.82 L460.48 354.87 L462.97 350.8 L465.46 346.62 L467.95 342.35 L470.45 338 L472.94 333.57 L475.43 329.08 L477.92 324.53 L480.42 319.95 L482.91 315.33 L485.4 310.69 L487.89 306.04" fill="none" stroke="#D095B7" stroke-width="1.2" stroke-linejoin="round"/>
<circle cx="338.36" cy="421.25" r="2.1" fill="#B86E98"/>
<circle cx="368.26" cy="449.7" r="2.1" fill="#B86E98"/>
<circle cx="398.17" cy="428.59" r="2.1" fill="#B86E98"/>
<circle cx="428.08" cy="397.84" r="2.1" fill="#B86E98"/>
<circle cx="457.99" cy="358.82" r="2.1" fill="#B86E98"/>
<circle cx="487.89" cy="306.04" r="2.1" fill="#B86E98"/>
<path d="M338.36 421.25 L340.85 421.23 L343.34 421.19 L345.83 421.11 L348.33 420.98 L350.82 420.77 L353.31 420.48 L355.8 420.07 L358.29 419.53 L360.79 418.85 L363.28 418 L365.77 416.97 L368.26 415.74 L370.76 414.29 L373.25 412.66 L375.74 410.87 L378.23 408.96 L380.72 406.96 L383.22 404.91 L385.71 402.83 L388.2 400.76 L390.69 398.74 L393.19 396.79 L395.68 394.95 L398.17 393.25 L400.66 391.71 L403.16 390.32 L405.65 389.04 L408.14 387.85 L410.63 386.71 L413.12 385.59 L415.62 384.46 L418.11 383.3 L420.6 382.06 L423.09 380.73 L425.59 379.26 L428.08 377.64 L430.57 375.83 L433.06 373.85 L435.55 371.71 L438.05 369.43 L440.54 367.01 L443.03 364.48 L445.52 361.86 L448.02 359.15 L450.51 356.38 L453 353.55 L455.49 350.69 L457.99 347.81 L460.48 344.92 L462.97 342.02 L465.46 339.12 L467.95 336.22 L470.45 333.32 L472.94 330.41 L475.43 327.5 L477.92 324.59 L480.42 321.67 L482.91 318.76 L485.4 315.84 L487.89 312.92" fill="none" stroke="#78CAC3" stroke-width="1.2" stroke-linejoin="round"/>
<path d="M335.73 421.25H340.98M338.36 418.62V423.87" stroke="#4DB5AC" stroke-width="1.1"/>
<path d="M365.64 415.74H370.89M368.26 413.11V418.36" stroke="#4DB5AC" stroke-width="1.1"/>
<path d="M395.55 393.25H400.8M398.17 390.62V395.87" stroke="#4DB5AC" stroke-width="1.1"/>
<path d="M425.45 377.64H430.7M428.08 375.02V380.27" stroke="#4DB5AC" stroke-width="1.1"/>
<path d="M455.36 347.81H460.61M457.99 345.18V350.43" stroke="#4DB5AC" stroke-width="1.1"/>
<path d="M485.27 312.92H490.52M487.89 310.3V315.55" stroke="#4DB5AC" stroke-width="1.1"/>
<path d="M338.36 400.13 L340.85 398.09 L343.34 396.07 L345.83 394.11 L348.33 392.23 L350.82 390.46 L353.31 388.83 L355.8 387.35 L358.29 386.07 L360.79 385 L363.28 384.18 L365.77 383.63 L368.26 383.38 L370.76 383.44 L373.25 383.75 L375.74 384.26 L378.23 384.9 L380.72 385.61 L383.22 386.31 L385.71 386.95 L388.2 387.45 L390.69 387.75 L393.19 387.79 L395.68 387.5 L398.17 386.82 L400.66 385.7 L403.16 384.17 L405.65 382.29 L408.14 380.12 L410.63 377.71 L413.12 375.12 L415.62 372.4 L418.11 369.61 L420.6 366.8 L423.09 364.03 L425.59 361.35 L428.08 358.82 L430.57 356.48 L433.06 354.32 L435.55 352.29 L438.05 350.38 L440.54 348.55 L443.03 346.77 L445.52 345.01 L448.02 343.24 L450.51 341.42 L453 339.53 L455.49 337.54 L457.99 335.41 L460.48 333.13 L462.97 330.69 L465.46 328.11 L467.95 325.41 L470.45 322.6 L472.94 319.69 L475.43 316.7 L477.92 313.64 L480.42 310.53 L482.91 307.37 L485.4 304.19 L487.89 300.99" fill="none" stroke="#96A9D0" stroke-width="1.2" stroke-linejoin="round"/>
<g stroke="#738DBE" stroke-width="1.1" fill="#738DBE" fill-opacity="0.45"><rect x="336.15" y="397.93" width="4.41" height="4.41"/><path d="M336.15 397.93L340.56 402.34M340.56 397.93L336.15 402.34"/></g>
<g stroke="#738DBE" stroke-width="1.1" fill="#738DBE" fill-opacity="0.45"><rect x="366.06" y="381.17" width="4.41" height="4.41"/><path d="M366.06 381.17L370.47 385.58M370.47 381.17L366.06 385.58"/></g>
<g stroke="#738DBE" stroke-width="1.1" fill="#738DBE" fill-opacity="0.45"><rect x="395.97" y="384.62" width="4.41" height="4.41"/><path d="M395.97 384.62L400.38 389.03M400.38 384.62L395.97 389.03"/></g>
<g stroke="#738DBE" stroke-width="1.1" fill="#738DBE" fill-opacity="0.45"><rect x="425.87" y="356.62" width="4.41" height="4.41"/><path d="M425.87 356.62L430.28 361.03M430.28 356.62L425.87 361.03"/></g>
<g stroke="#738DBE" stroke-width="1.1" fill="#738DBE" fill-opacity="0.45"><rect x="455.78" y="333.21" width="4.41" height="4.41"/><path d="M455.78 333.21L460.19 337.62M460.19 333.21L455.78 337.62"/></g>
<g stroke="#738DBE" stroke-width="1.1" fill="#738DBE" fill-opacity="0.45"><rect x="485.69" y="298.78" width="4.41" height="4.41"/><path d="M485.69 298.78L490.1 303.19M490.1 298.78L485.69 303.19"/></g>
<path d="M338.36 383.38 L340.85 383.68 L343.34 383.96 L345.83 384.2 L348.33 384.39 L350.82 384.51 L353.31 384.53 L355.8 384.45 L358.29 384.24 L360.79 383.89 L363.28 383.37 L365.77 382.67 L368.26 381.77 L370.76 380.66 L373.25 379.35 L375.74 377.85 L378.23 376.19 L380.72 374.37 L383.22 372.42 L385.71 370.35 L388.2 368.18 L390.69 365.93 L393.19 363.61 L395.68 361.23 L398.17 358.82 L400.66 356.39 L403.16 353.96 L405.65 351.53 L408.14 349.13 L410.63 346.75 L413.12 344.43 L415.62 342.16 L418.11 339.97 L420.6 337.87 L423.09 335.86 L425.59 333.97 L428.08 332.2 L430.57 330.57 L433.06 329.06 L435.55 327.67 L438.05 326.38 L440.54 325.19 L443.03 324.08 L445.52 323.03 L448.02 322.04 L450.51 321.1 L453 320.19 L455.49 319.31 L457.99 318.43 L460.48 317.55 L462.97 316.68 L465.46 315.8 L467.95 314.92 L470.45 314.04 L472.94 313.16 L475.43 312.28 L477.92 311.4 L480.42 310.52 L482.91 309.64 L485.4 308.76 L487.89 307.87" fill="none" stroke="#55B275" stroke-width="1.2" stroke-linejoin="round"/>
<rect x="336.36" y="381.38" width="3.99" height="3.99" fill="#2F9A55"/>
<rect x="366.27" y="379.78" width="3.99" height="3.99" fill="#2F9A55"/>
<rect x="396.18" y="356.83" width="3.99" height="3.99" fill="#2F9A55"/>
<rect x="426.08" y="330.21" width="3.99" height="3.99" fill="#2F9A55"/>
<rect x="455.99" y="316.44" width="3.99" height="3.99" fill="#2F9A55"/>
<rect x="485.9" y="305.88" width="3.99" height="3.99" fill="#2F9A55"/>
<path d="M338.36 368.92 L340.85 368.52 L343.34 368.12 L345.83 367.71 L348.33 367.28 L350.82 366.84 L353.31 366.38 L355.8 365.9 L358.29 365.38 L360.79 364.83 L363.28 364.25 L365.77 363.62 L368.26 362.95 L370.76 362.24 L373.25 361.48 L375.74 360.7 L378.23 359.91 L380.72 359.12 L383.22 358.35 L385.71 357.6 L388.2 356.89 L390.69 356.23 L393.19 355.64 L395.68 355.12 L398.17 354.69 L400.66 354.36 L403.16 354.1 L405.65 353.88 L408.14 353.68 L410.63 353.47 L413.12 353.21 L415.62 352.89 L418.11 352.46 L420.6 351.9 L423.09 351.19 L425.59 350.3 L428.08 349.18 L430.57 347.84 L433.06 346.26 L435.55 344.49 L438.05 342.53 L440.54 340.41 L443.03 338.15 L445.52 335.76 L448.02 333.27 L450.51 330.7 L453 328.07 L455.49 325.4 L457.99 322.7 L460.48 320 L462.97 317.29 L465.46 314.59 L467.95 311.88 L470.45 309.17 L472.94 306.47 L475.43 303.76 L477.92 301.05 L480.42 298.34 L482.91 295.62 L485.4 292.91 L487.89 290.2" fill="none" stroke="#C4B27A" stroke-width="1.2" stroke-linejoin="round"/>
<path d="M338.36 366.19L340.73 370.29L335.98 370.29Z" fill="#B09A55"/>
<path d="M368.26 360.22L370.64 364.32L365.89 364.32Z" fill="#B09A55"/>
<path d="M398.17 351.96L400.55 356.06L395.8 356.06Z" fill="#B09A55"/>
<path d="M428.08 346.45L430.45 350.55L425.7 350.55Z" fill="#B09A55"/>
<path d="M457.99 319.97L460.36 324.06L455.61 324.06Z" fill="#B09A55"/>
<path d="M487.89 287.47L490.27 291.57L485.52 291.57Z" fill="#B09A55"/>
</svg>
<path d="M306 424.6H310.2" stroke="#808080" stroke-width="1"/>
<text transform="translate(302.8 428.28) scale(1 1.06)" text-anchor="end" class="tk">20</text>
<path d="M306 378.5H310.2" stroke="#808080" stroke-width="1"/>
<text transform="translate(302.8 382.18) scale(1 1.06)" text-anchor="end" class="tk">30</text>
<path d="M306 332.4H310.2" stroke="#808080" stroke-width="1"/>
<text transform="translate(302.8 336.08) scale(1 1.06)" text-anchor="end" class="tk">40</text>
<path d="M306 286.3H310.2" stroke="#808080" stroke-width="1"/>
<text transform="translate(302.8 289.98) scale(1 1.06)" text-anchor="end" class="tk">50</text>
<path d="M319.1 465.0V470.2" stroke="#808080" stroke-width="1"/>
<text transform="translate(319.1 482.98) scale(1 1.06)" text-anchor="middle" class="tk">0.01</text>
<path d="M418.45 465.0V470.2" stroke="#808080" stroke-width="1"/>
<text transform="translate(418.45 482.98) scale(1 1.06)" text-anchor="middle" class="tk">0.10</text>
<path d="M517.8 465.0V470.2" stroke="#808080" stroke-width="1"/>
<text transform="translate(517.8 482.98) scale(1 1.06)" text-anchor="middle" class="tk">1.00</text>
<text transform="translate(419.1 492.9) scale(1 1.06)" text-anchor="middle" class="ti">Budget</text>
<text transform="translate(287.69 375.3) rotate(-90) scale(1 1.06)" text-anchor="middle" class="ti">CPM</text>
<text transform="translate(545.6 70) scale(1 1.06)" text-anchor="start" class="lt">Algorithm</text>
<rect x="545.6" y="73.2" width="14.6" height="15.45" fill="#DCDCDB" stroke="#FFFFFF" stroke-width="1"/>
<rect x="545.6" y="88.65" width="14.6" height="15.45" fill="#DCDCDB" stroke="#FFFFFF" stroke-width="1"/>
<rect x="545.6" y="104.1" width="14.6" height="15.45" fill="#DCDCDB" stroke="#FFFFFF" stroke-width="1"/>
<rect x="545.6" y="119.55" width="14.6" height="15.45" fill="#DCDCDB" stroke="#FFFFFF" stroke-width="1"/>
<rect x="545.6" y="135" width="14.6" height="15.45" fill="#DCDCDB" stroke="#FFFFFF" stroke-width="1"/>
<rect x="545.6" y="150.45" width="14.6" height="15.45" fill="#DCDCDB" stroke="#FFFFFF" stroke-width="1"/>
<path d="M546.6 80.92H559.2" stroke="#E89A94" stroke-width="1.1"/>
<circle cx="552.9" cy="80.92" r="1.8" fill="#D8736E"/>
<text transform="translate(562.2 84.09) scale(1 1.06)" text-anchor="start" class="lg">const</text>
<path d="M546.6 96.38H559.2" stroke="#C4B27A" stroke-width="1.1"/>
<path d="M552.9 94.03L554.94 97.55L550.86 97.55Z" fill="#B09A55"/>
<text transform="translate(562.2 99.54) scale(1 1.06)" text-anchor="start" class="lg">lin</text>
<path d="M546.6 111.82H559.2" stroke="#55B275" stroke-width="1.1"/>
<rect x="551.19" y="110.11" width="3.42" height="3.42" fill="#2F9A55"/>
<text transform="translate(562.2 114.99) scale(1 1.06)" text-anchor="start" class="lg">mcpc</text>
<path d="M546.6 127.27H559.2" stroke="#78CAC3" stroke-width="1.1"/>
<path d="M550.65 127.27H555.15M552.9 125.02V129.52" stroke="#4DB5AC" stroke-width="1.1"/>
<text transform="translate(562.2 130.44) scale(1 1.06)" text-anchor="start" class="lg">ortb1</text>
<path d="M546.6 142.72H559.2" stroke="#96A9D0" stroke-width="1.1"/>
<g stroke="#738DBE" stroke-width="1.1" fill="#738DBE" fill-opacity="0.45"><rect x="551.01" y="140.84" width="3.78" height="3.78"/><path d="M551.01 140.84L554.79 144.61M554.79 140.84L551.01 144.61"/></g>
<text transform="translate(562.2 145.89) scale(1 1.06)" text-anchor="start" class="lg">ortb2</text>
<path d="M546.6 158.17H559.2" stroke="#D095B7" stroke-width="1.1"/>
<circle cx="552.9" cy="158.17" r="1.8" fill="#B86E98"/>
<text transform="translate(562.2 161.34) scale(1 1.06)" text-anchor="start" class="lg">rand</text>
<text transform="translate(541.5 330.6) scale(1 1.06)" text-anchor="start" class="lt">Algorithm</text>
<rect x="541.5" y="334.2" width="14.6" height="15.45" fill="#DCDCDB" stroke="#FFFFFF" stroke-width="1"/>
<rect x="541.5" y="349.65" width="14.6" height="15.45" fill="#DCDCDB" stroke="#FFFFFF" stroke-width="1"/>
<rect x="541.5" y="365.1" width="14.6" height="15.45" fill="#DCDCDB" stroke="#FFFFFF" stroke-width="1"/>
<rect x="541.5" y="380.55" width="14.6" height="15.45" fill="#DCDCDB" stroke="#FFFFFF" stroke-width="1"/>
<rect x="541.5" y="396" width="14.6" height="15.45" fill="#DCDCDB" stroke="#FFFFFF" stroke-width="1"/>
<rect x="541.5" y="411.45" width="14.6" height="15.45" fill="#DCDCDB" stroke="#FFFFFF" stroke-width="1"/>
<path d="M542.5 341.93H555.1" stroke="#E89A94" stroke-width="1.1"/>
<circle cx="548.8" cy="341.93" r="1.8" fill="#D8736E"/>
<text transform="translate(558.1 345.09) scale(1 1.06)" text-anchor="start" class="lg">const</text>
<path d="M542.5 357.38H555.1" stroke="#C4B27A" stroke-width="1.1"/>
<path d="M548.8 355.04L550.84 358.55L546.76 358.55Z" fill="#B09A55"/>
<text transform="translate(558.1 360.54) scale(1 1.06)" text-anchor="start" class="lg">lin</text>
<path d="M542.5 372.82H555.1" stroke="#55B275" stroke-width="1.1"/>
<rect x="547.09" y="371.12" width="3.42" height="3.42" fill="#2F9A55"/>
<text transform="translate(558.1 375.99) scale(1 1.06)" text-anchor="start" class="lg">mcpc</text>
<path d="M542.5 388.27H555.1" stroke="#78CAC3" stroke-width="1.1"/>
<path d="M546.55 388.27H551.05M548.8 386.02V390.52" stroke="#4DB5AC" stroke-width="1.1"/>
<text transform="translate(558.1 391.44) scale(1 1.06)" text-anchor="start" class="lg">ortb1</text>
<path d="M542.5 403.73H555.1" stroke="#96A9D0" stroke-width="1.1"/>
<g stroke="#738DBE" stroke-width="1.1" fill="#738DBE" fill-opacity="0.45"><rect x="546.91" y="401.84" width="3.78" height="3.78"/><path d="M546.91 401.84L550.69 405.62M550.69 401.84L546.91 405.62"/></g>
<text transform="translate(558.1 406.89) scale(1 1.06)" text-anchor="start" class="lg">ortb2</text>
<path d="M542.5 419.18H555.1" stroke="#D095B7" stroke-width="1.1"/>
<circle cx="548.8" cy="419.18" r="1.8" fill="#B86E98"/>
<text transform="translate(558.1 422.34) scale(1 1.06)" text-anchor="start" class="lg">rand</text>
<text transform="translate(123.8 260.9) scale(0.82 1)" text-anchor="middle" class="cp">(</text>
<text transform="translate(134 260.2) scale(1.12 1)" text-anchor="middle" class="cl">a</text>
<text transform="translate(143.7 260.9) scale(0.82 1)" text-anchor="middle" class="cp">)</text>
<text transform="translate(418.8 261.3) scale(0.82 1)" text-anchor="middle" class="cp">(</text>
<text transform="translate(429.8 260.3) scale(1.12 1)" text-anchor="middle" class="cl">b</text>
<text transform="translate(440 261.3) scale(0.82 1)" text-anchor="middle" class="cp">)</text>
<text transform="translate(121.7 521.3) scale(0.82 1)" text-anchor="middle" class="cp">(</text>
<text transform="translate(131.1 520.4) scale(1.12 1)" text-anchor="middle" class="cl">c</text>
<text transform="translate(140.1 521.3) scale(0.82 1)" text-anchor="middle" class="cp">)</text>
<text transform="translate(414.55 521.1) scale(0.82 1)" text-anchor="middle" class="cp">(</text>
<text transform="translate(425.35 520.4) scale(1.12 1)" text-anchor="middle" class="cl">d</text>
<text transform="translate(436 521.1) scale(0.82 1)" text-anchor="middle" class="cp">)</text>
</svg>
</body></html>
